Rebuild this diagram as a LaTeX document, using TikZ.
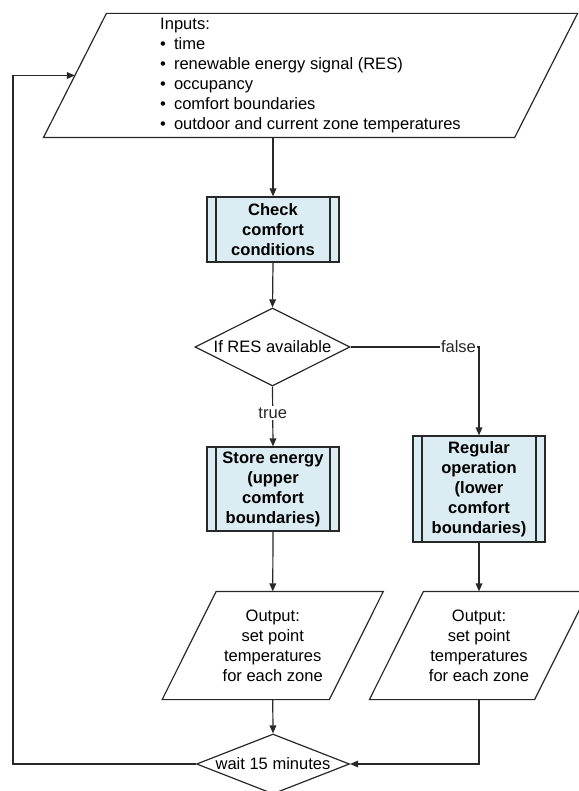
\documentclass[tikz,border=0pt]{standalone}
\usepackage{fontspec}
\setmainfont{Liberation Sans}
\usepackage{tikz}
\usetikzlibrary{shapes.geometric,arrows.meta,positioning,calc}
\usepackage{xcolor}
\definecolor{cProc}{RGB}{219,236,243}
\definecolor{cLine}{RGB}{40,40,40}
\tikzset{
  basebox/.style={draw=cLine,line width=0.9pt,align=center,inner sep=0pt,
                  font=\fontsize{12.4pt}{15pt}\selectfont},
  procnode/.style={basebox,rectangle,fill=cProc,minimum width=99pt,
                   font=\fontsize{12.4pt}{15pt}\selectfont\bfseries,
                   path picture={
                     \draw[cLine,line width=0.9pt]
                       ([xshift=6.75pt]path picture bounding box.north west) --
                       ([xshift=6.75pt]path picture bounding box.south west)
                       ([xshift=-6.75pt]path picture bounding box.north east) --
                       ([xshift=-6.75pt]path picture bounding box.south east);}},
  ionode/.style={basebox,rectangle,draw=none},
  iopath/.style={draw=cLine,line width=0.9pt,line join=miter},
  decnode/.style={basebox,diamond},
  arr/.style={-{Triangle[length=6pt,width=5pt]},line width=0.9pt,color=cLine},
  lbl/.style={fill=white,inner sep=1pt,font=\fontsize{12.4pt}{15pt}\selectfont}
}
% slanted input/output outline round a node: #1 node, #2 half slant
\newcommand{\ioshape}[2]{%
  \draw[iopath] ($(#1.north west)+(#2,0)$) -- ($(#1.north east)+(#2,0)$)
    -- ($(#1.south east)-(#2,0)$) -- ($(#1.south west)-(#2,0)$) -- cycle;}
\begin{document}
\begin{tikzpicture}[x=0.75pt,y=-0.75pt]
  \useasboundingbox (0,0) rectangle (578,791);

  \node[ionode,minimum width=352.5pt,minimum height=92.25pt,align=left] (inp)
      at (310.5,75.5)
      {Inputs:\\
       \textbullet\hspace{6pt}time\\
       \textbullet\hspace{6pt}renewable energy signal (RES)\\
       \textbullet\hspace{6pt}occupancy\\
       \textbullet\hspace{6pt}comfort boundaries\\
       \textbullet\hspace{6pt}outdoor and current zone temperatures};
  \ioshape{inp}{31.5}

  \node[procnode,minimum height=48.75pt] (chk) at (273,229.5)
      {Check\\comfort\\conditions};

  \node[decnode,aspect=2,minimum width=116.25pt,minimum height=58.5pt] (res)
      at (272.5,347) {If RES available};

  \node[procnode,minimum height=63pt] (store) at (273,489)
      {Store energy\\(upper\\comfort\\boundaries)};

  \node[procnode,minimum height=79.5pt] (reg) at (479,489)
      {Regular\\operation\\(lower\\comfort\\boundaries)};

  \node[ionode,minimum width=124.5pt,minimum height=80.25pt] (out1)
      at (272.75,645.5)
      {Output:\\set point\\temperatures\\for each zone};
  \ioshape{out1}{27}

  \node[ionode,minimum width=123pt,minimum height=80.25pt] (out2)
      at (479,645.5)
      {Output:\\set point\\temperatures\\for each zone};
  \ioshape{out2}{27}

  \node[decnode,aspect=2.5,minimum width=114.75pt,minimum height=45pt] (wait)
      at (273,764) {wait 15 minutes};

  \coordinate (loop) at (13,764);

  % main flow
  \draw[arr] (inp.south -| chk.north) -- (chk.north);
  \draw[arr] (chk.south) -- (res.north);
  \draw[arr] (res.south) -- node[lbl,pos=0.44]{true} (store.north);
  \draw[arr] (res.east) -| node[lbl,pos=0.42]{false} (reg.north);
  \draw[arr] (store.south) -- (out1.north);
  \draw[arr] (reg.south) -- (out2.north);
  \draw[arr] (out1.south) -- (wait.north);
  \draw[arr] (out2) |- (wait.east);
  % back to inputs
  \draw[arr] (wait.west) -- (loop) |- (inp.west);
\end{tikzpicture}
\end{document}
